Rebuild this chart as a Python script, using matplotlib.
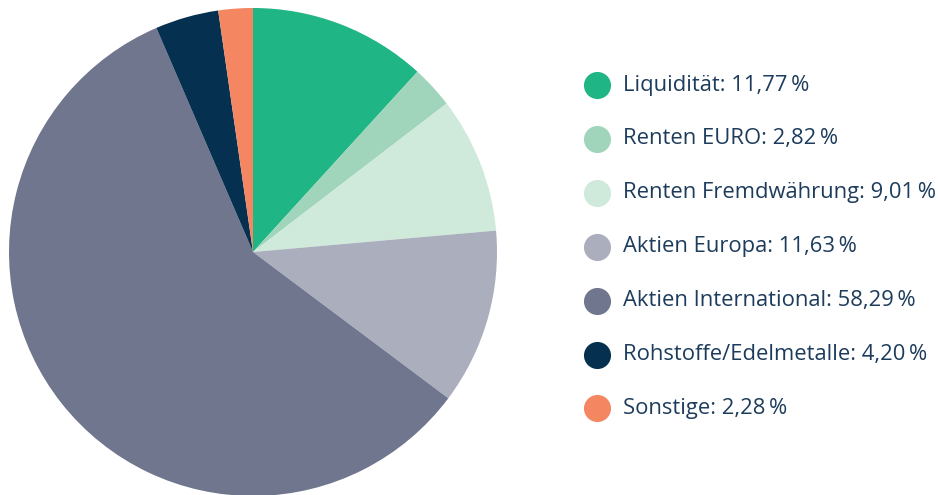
import matplotlib
matplotlib.use("Agg")
import matplotlib.pyplot as plt

labels = ["Liquidität", "Renten EURO", "Renten Fremdwährung", "Aktien Europa",
          "Aktien International", "Rohstoffe/Edelmetalle", "Sonstige"]
values = [11.77, 2.82, 9.01, 11.63, 58.29, 4.20, 2.28]
colors = ["#20b584", "#a0d5bb", "#cfe9da", "#abaebd", "#6f768d", "#06304f", "#f48662"]

text_color = "#1d3c5c"

W, H = 938, 495
fig = plt.figure(figsize=(W / 100, H / 100), dpi=100)

# pie: center (253, 252) px, radius 244 px
cx, cy, r = 253, 252, 244
ax = fig.add_axes([(cx - r) / W, (H - cy - r) / H, 2 * r / W, 2 * r / H])
ax.pie(values, colors=colors, startangle=90, counterclock=False,
       wedgeprops=dict(linewidth=0))
ax.set_xlim(-1, 1)
ax.set_ylim(-1, 1)
ax.set_aspect("equal")
ax.axis("off")

# legend drawn by hand
lx, tx, y0, dy = 597, 623, 85, 53.9
overlay = fig.add_axes([0, 0, 1, 1])
overlay.set_xlim(0, W)
overlay.set_ylim(H, 0)
overlay.axis("off")
for i, (lab, val, col) in enumerate(zip(labels, values, colors)):
    y = y0 + i * dy
    overlay.plot(lx, y, marker="o", markersize=19.5, color=col, markeredgewidth=0)
    txt = f"{lab}: {val:.2f}".replace(".", ",") + "\u2009%"
    overlay.text(tx, y, txt, fontsize=15.8, color=text_color, va="center",
                 ha="left", family=["Open Sans", "DejaVu Sans"])

fig.savefig("out.png", dpi=100)
